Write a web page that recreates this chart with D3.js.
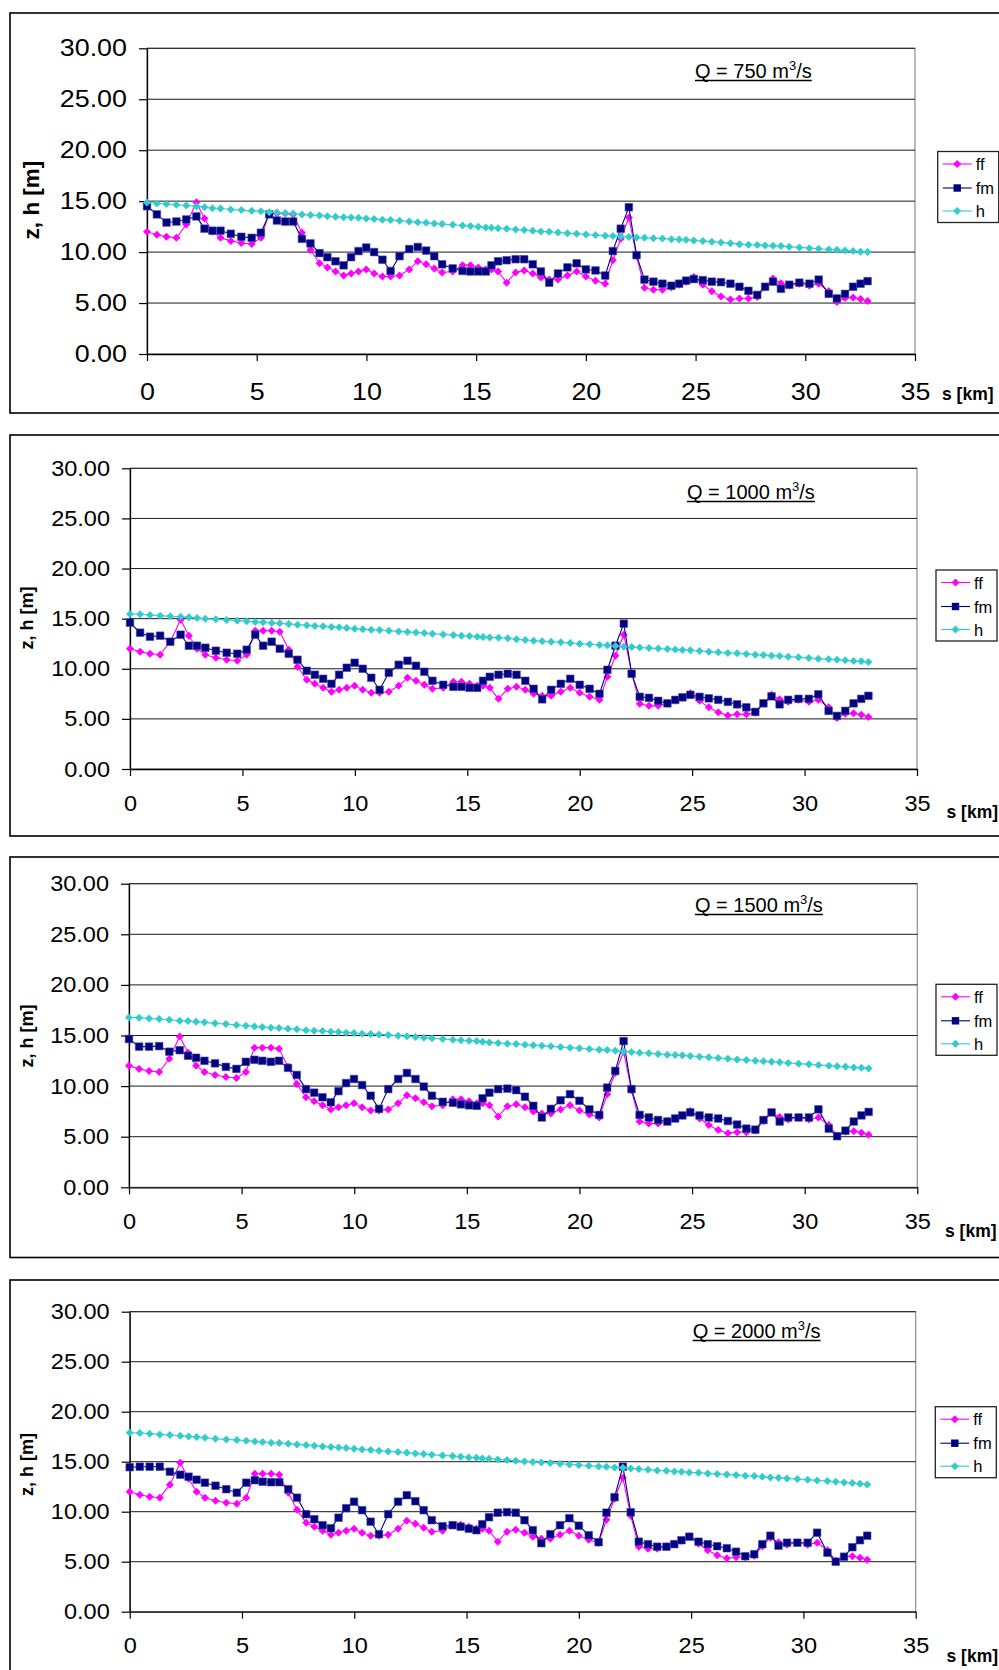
<!DOCTYPE html>
<html>
<head>
<meta charset="utf-8">
<script src="https://cdn.jsdelivr.net/npm/d3@7"></script>
<style>
  body { margin: 0; background: #fff; }
  svg { display: block; }
  text { font-family: "Liberation Sans", Arial, sans-serif; fill: #000; }
</style>
</head>
<body>
<svg id="chart" width="999" height="1670"></svg>
<script>
// River profile: station along the reach [km]
const s_km = [0, 0.45, 0.89, 1.34, 1.79, 2.25, 2.62, 2.98, 3.35, 3.82,
  4.30, 4.77, 5.19, 5.57, 5.92, 6.30, 6.66, 7.06, 7.45, 7.86,
  8.22, 8.59, 8.96, 9.30, 9.64, 9.99, 10.35, 10.73, 11.10, 11.51,
  11.95, 12.34, 12.72, 13.09, 13.45, 13.93, 14.38, 14.74, 15.10, 15.44,
  15.70, 16.00, 16.39, 16.80, 17.19, 17.58, 17.95, 18.33, 18.73, 19.16,
  19.58, 20.00, 20.44, 20.88, 21.23, 21.59, 21.96, 22.31, 22.67, 23.08,
  23.49, 23.90, 24.25, 24.57, 24.92, 25.33, 25.74, 26.16, 26.59, 27.00,
  27.41, 27.81, 28.17, 28.53, 28.89, 29.27, 29.73, 30.19, 30.61, 31.07,
  31.44, 31.81, 32.18, 32.52, 32.84];

// Bed elevation ff [m] (same for all discharges)
const ff = [12.0, 11.7, 11.5, 11.4, 12.7, 14.9, 13.3, 12.0, 11.4, 11.1,
  10.9, 10.8, 11.4, 13.8, 13.8, 13.8, 13.7, 11.9, 10.2, 8.9,
  8.5, 8.1, 7.7, 7.9, 8.1, 8.3, 7.9, 7.6, 7.6, 7.7,
  8.3, 9.1, 8.8, 8.4, 8.0, 8.1, 8.7, 8.7, 8.5, 8.3,
  8.3, 8.1, 7.0, 8.0, 8.2, 7.9, 7.5, 7.3, 7.3, 7.7,
  8.1, 7.6, 7.2, 6.9, 9.2, 11.3, 13.4, 9.6, 6.5, 6.3,
  6.3, 6.55, 6.8, 7.1, 7.55, 6.8, 6.15, 5.65, 5.35, 5.45,
  5.45, 5.6, 6.55, 7.4, 6.95, 6.7, 6.9, 6.7, 6.9, 6.15,
  5.1, 5.5, 5.55, 5.4, 5.2];

// Bed elevation fm [m] per discharge
const fm750 = [14.5, 13.7, 12.9, 13.0, 13.2, 13.5, 12.3, 12.1, 12.1, 11.8,
  11.5, 11.4, 11.9, 13.7, 13.1, 13.0, 13.0, 11.3, 10.85, 9.9,
  9.5, 9.1, 8.7, 9.5, 10.1, 10.45, 10.0, 9.25, 8.15, 9.6,
  10.3, 10.5, 10.15, 9.6, 8.8, 8.4, 8.15, 8.1, 8.1, 8.1,
  8.7, 9.1, 9.2, 9.3, 9.3, 8.8, 8.1, 7.0, 7.9, 8.5,
  8.9, 8.3, 8.2, 7.7, 10.1, 12.3, 14.4, 9.7, 7.3, 7.1,
  6.9, 6.7, 6.9, 7.2, 7.35, 7.25, 7.1, 7.05, 6.9, 6.6,
  6.2, 5.8, 6.6, 7.1, 6.4, 6.8, 7.0, 6.9, 7.3, 5.9,
  5.45, 5.9, 6.6, 6.9, 7.15];
const fm1000 = [14.6, 13.6, 13.2, 13.3, 12.7, 13.4, 12.3, 12.3, 12.1, 11.8,
  11.6, 11.5, 11.9, 13.4, 12.3, 12.7, 12.0, 11.5, 10.9, 9.8,
  9.4, 9.0, 8.5, 9.4, 10.1, 10.6, 10.0, 9.1, 7.9, 9.6,
  10.4, 10.8, 10.3, 9.7, 8.8, 8.4, 8.2, 8.2, 8.1, 8.1,
  8.8, 9.2, 9.4, 9.5, 9.4, 8.8, 8.0, 6.95, 7.9, 8.5,
  9.0, 8.4, 8.0, 7.5, 9.9, 12.3, 14.5, 9.5, 7.2, 7.1,
  6.8, 6.55, 6.9, 7.15, 7.4, 7.2, 7.05, 6.9, 6.7, 6.45,
  6.15, 5.7, 6.55, 7.25, 6.45, 6.9, 7.0, 7.0, 7.45, 5.8,
  5.3, 5.8, 6.55, 7.0, 7.3];
const fm1500 = [14.65, 13.9, 13.9, 13.95, 13.4, 13.55, 13.0, 12.8, 12.5, 12.25,
  11.9, 11.7, 12.4, 12.6, 12.5, 12.4, 12.5, 11.8, 11.1, 9.7,
  9.35, 8.9, 8.4, 9.5, 10.3, 10.7, 10.1, 9.05, 7.75, 9.7,
  10.7, 11.3, 10.7, 9.95, 9.05, 8.45, 8.35, 8.2, 8.1, 8.05,
  8.8, 9.35, 9.7, 9.75, 9.6, 8.95, 8.05, 6.9, 7.75, 8.6,
  9.2, 8.55, 7.7, 7.15, 9.85, 11.5, 14.45, 9.7, 7.15, 6.9,
  6.65, 6.5, 6.8, 7.1, 7.4, 7.1, 6.9, 6.8, 6.55, 6.2,
  5.8, 5.7, 6.65, 7.4, 6.5, 6.9, 6.9, 6.9, 7.7, 5.8,
  5.05, 5.6, 6.5, 7.1, 7.45];
const fm2000 = [14.45, 14.5, 14.5, 14.5, 14.0, 13.7, 13.5, 13.2, 12.9, 12.6,
  12.25, 11.9, 12.9, 13.15, 13.0, 12.95, 12.95, 12.25, 11.4, 9.75,
  9.25, 8.65, 8.35, 9.4, 10.35, 11.0, 10.15, 9.0, 7.75, 9.75,
  11.0, 11.65, 11.05, 10.15, 9.15, 8.55, 8.65, 8.5, 8.3, 8.15,
  8.75, 9.45, 9.9, 9.95, 9.9, 9.15, 8.15, 6.85, 7.75, 8.65,
  9.35, 8.6, 7.65, 6.95, 9.9, 11.45, 14.5, 9.95, 7.0, 6.75,
  6.5, 6.5, 6.75, 7.15, 7.5, 7.0, 6.75, 6.55, 6.35, 6.0,
  5.55, 5.75, 6.75, 7.6, 6.6, 6.9, 6.9, 6.9, 7.9, 5.9,
  5.0, 5.5, 6.45, 7.15, 7.6];

// Water level h [m] per discharge
const h750 = [14.87, 14.77, 14.71, 14.64, 14.58, 14.51, 14.41, 14.31, 14.28, 14.18,
  14.12, 14.05, 14.02, 13.92, 13.89, 13.82, 13.79, 13.69, 13.63, 13.59,
  13.53, 13.46, 13.43, 13.40, 13.37, 13.30, 13.24, 13.17, 13.14, 13.07,
  13.01, 12.94, 12.88, 12.81, 12.75, 12.68, 12.61, 12.55, 12.48, 12.42,
  12.38, 12.35, 12.29, 12.22, 12.16, 12.09, 12.03, 11.99, 11.93, 11.86,
  11.80, 11.73, 11.67, 11.60, 11.57, 11.52, 11.48, 11.44, 11.41, 11.37,
  11.34, 11.27, 11.24, 11.21, 11.14, 11.08, 11.01, 10.95, 10.88, 10.78,
  10.72, 10.69, 10.65, 10.62, 10.59, 10.52, 10.46, 10.39, 10.33, 10.26,
  10.23, 10.16, 10.10, 10.03, 10.00];
const h1000 = [15.46, 15.43, 15.36, 15.30, 15.23, 15.20, 15.13, 15.06, 15.00, 14.93,
  14.87, 14.80, 14.73, 14.67, 14.63, 14.57, 14.53, 14.47, 14.40, 14.33,
  14.27, 14.23, 14.17, 14.13, 14.07, 14.00, 13.93, 13.90, 13.87, 13.80,
  13.73, 13.67, 13.63, 13.57, 13.50, 13.43, 13.37, 13.30, 13.27, 13.20,
  13.17, 13.13, 13.10, 13.04, 12.94, 12.87, 12.80, 12.74, 12.70, 12.64,
  12.57, 12.50, 12.44, 12.37, 12.34, 12.27, 12.20, 12.17, 12.11, 12.07,
  12.01, 11.97, 11.91, 11.87, 11.84, 11.77, 11.71, 11.64, 11.57, 11.54,
  11.47, 11.41, 11.37, 11.31, 11.27, 11.21, 11.14, 11.07, 11.01, 10.94,
  10.91, 10.84, 10.77, 10.74, 10.67];
const h1500 = [16.79, 16.76, 16.69, 16.63, 16.56, 16.46, 16.43, 16.36, 16.30, 16.20,
  16.13, 16.04, 15.97, 15.90, 15.84, 15.77, 15.74, 15.67, 15.61, 15.51,
  15.48, 15.44, 15.38, 15.34, 15.28, 15.25, 15.18, 15.15, 15.11, 15.05,
  14.98, 14.92, 14.85, 14.78, 14.72, 14.65, 14.59, 14.52, 14.49, 14.46,
  14.39, 14.32, 14.26, 14.19, 14.16, 14.09, 14.03, 13.99, 13.93, 13.86,
  13.80, 13.73, 13.66, 13.60, 13.57, 13.50, 13.43, 13.37, 13.30, 13.24,
  13.17, 13.11, 13.07, 13.04, 12.97, 12.91, 12.84, 12.78, 12.71, 12.64,
  12.58, 12.51, 12.45, 12.41, 12.35, 12.28, 12.22, 12.15, 12.08, 12.02,
  11.95, 11.92, 11.85, 11.82, 11.75];
const h2000 = [17.90, 17.87, 17.80, 17.73, 17.67, 17.60, 17.53, 17.47, 17.40, 17.30,
  17.23, 17.17, 17.10, 17.03, 16.97, 16.90, 16.87, 16.80, 16.73, 16.67,
  16.60, 16.53, 16.47, 16.43, 16.37, 16.30, 16.23, 16.17, 16.10, 16.03,
  15.97, 15.90, 15.83, 15.77, 15.70, 15.63, 15.57, 15.50, 15.43, 15.40,
  15.33, 15.30, 15.23, 15.17, 15.10, 15.03, 14.97, 14.93, 14.87, 14.80,
  14.73, 14.67, 14.60, 14.53, 14.50, 14.43, 14.40, 14.33, 14.27, 14.20,
  14.13, 14.10, 14.03, 14.00, 13.93, 13.90, 13.83, 13.77, 13.73, 13.67,
  13.60, 13.57, 13.50, 13.43, 13.40, 13.33, 13.27, 13.20, 13.13, 13.07,
  13.00, 12.93, 12.87, 12.80, 12.73];

const discharges = [750, 1000, 1500, 2000];
const fmSets = [fm750, fm1000, fm1500, fm2000];
const hSets = [h750, h1000, h1500, h2000];

const yTicks = [0, 5, 10, 15, 20, 25, 30];
const xTicks = [0, 5, 10, 15, 20, 25, 30, 35];
const seriesNames = ["ff", "fm", "h"];

// Series styling
const seriesStyle = {
  ff: { color: "#FF00FF", marker: "diamond" },
  fm: { color: "#000080", marker: "square" },
  h:  { color: "#33CCCC", marker: "diamond" }
};

// Page layout of the four stacked charts
const layout = [
  { frame: [10, 13, 1012, 413], plot: { l: 147, r: 915, t: 48.3, b: 354 },
    tickFs: 24, stretch: 1.12, titleFs: 22.5, titleX: 31, titleY: 200, xPad: 22, yPad: 12,
    q: { x: 695, y: 78 }, legend: { x: 937.7, y: 151.5 }, sLab: { x: 942, y: 400 } },
  { frame: [10, 435, 1012, 836], plot: { l: 130, r: 917, t: 468.3, b: 769 },
    tickFs: 22, stretch: 1.07, titleFs: 18, titleX: 27, titleY: 618, xPad: 19, yPad: 12,
    q: { x: 687, y: 499 }, legend: { x: 936, y: 570 }, sLab: { x: 946.5, y: 818 } },
  { frame: [10, 857, 1012, 1257.5], plot: { l: 129, r: 917.3, t: 883.7, b: 1187.3 },
    tickFs: 22, stretch: 1.07, titleFs: 18, titleX: 27, titleY: 1036, xPad: 19, yPad: 12,
    q: { x: 695, y: 912 }, legend: { x: 936, y: 984.3 }, sLab: { x: 945, y: 1237 } },
  { frame: [10, 1280, 1012, 1700], plot: { l: 129.7, r: 915.7, t: 1311.7, b: 1611.7 },
    tickFs: 22, stretch: 1.07, titleFs: 18, titleX: 27, titleY: 1464.5, xPad: 19, yPad: 12,
    q: { x: 692.7, y: 1338 }, legend: { x: 935.3, y: 1406.7 }, sLab: { x: 946.5, y: 1662 } }
];

const svg = d3.select("#chart");

function markerPath(type, r) {
  if (type === "square") return `M${-r},${-r}H${r}V${r}H${-r}Z`;
  return `M0,${-r}L${r},0L0,${r}L${-r},0Z`;
}

// widen tick labels horizontally while keeping their anchor point in place
function stretchTickText(axisG, k) {
  axisG.selectAll(".tick text").each(function () {
    const t = d3.select(this);
    const tx = +t.attr("x") || 0;
    t.attr("x", tx / k).attr("transform", `scale(${k},1)`);
  });
}

function drawPanel(L, idx) {
  const g = svg.append("g");
  const p = L.plot;
  const x = d3.scaleLinear().domain([0, 35]).range([p.l, p.r]);
  const y = d3.scaleLinear().domain([0, 30]).range([p.b, p.t]);

  // chart frame
  g.append("rect")
    .attr("x", L.frame[0]).attr("y", L.frame[1])
    .attr("width", L.frame[2] - L.frame[0]).attr("height", L.frame[3] - L.frame[1])
    .attr("fill", "#fff").attr("stroke", "#000").attr("stroke-width", 1.6);

  // plot area border
  g.append("rect")
    .attr("x", p.l).attr("y", p.t)
    .attr("width", p.r - p.l).attr("height", p.b - p.t)
    .attr("fill", "#fff").attr("stroke", "#8c8c8c").attr("stroke-width", 1.2);

  // horizontal gridlines
  g.append("g").selectAll("line")
    .data(yTicks.filter(v => v > 0))
    .join("line")
    .attr("x1", p.l).attr("x2", p.r)
    .attr("y1", d => y(d)).attr("y2", d => y(d))
    .attr("stroke", "#1a1a1a").attr("stroke-width", 1);

  // y axis
  const yAxis = g.append("g")
    .attr("transform", `translate(${p.l},0)`)
    .call(d3.axisLeft(y).tickValues(yTicks).tickFormat(d3.format(".2f"))
      .tickSizeInner(8).tickSizeOuter(0).tickPadding(L.yPad));
  yAxis.select(".domain").attr("stroke", "#000").attr("stroke-width", 1.3);
  yAxis.selectAll(".tick line").attr("stroke", "#000").attr("stroke-width", 1.2);
  yAxis.selectAll("text").attr("font-size", L.tickFs).attr("font-family", null);
  stretchTickText(yAxis, L.stretch);

  // x axis
  const xAxis = g.append("g")
    .attr("transform", `translate(0,${p.b})`)
    .call(d3.axisBottom(x).tickValues(xTicks).tickFormat(d3.format("d"))
      .tickSizeInner(7).tickSizeOuter(0).tickPadding(L.xPad));
  xAxis.select(".domain").attr("stroke", "#000").attr("stroke-width", 1.3);
  xAxis.selectAll(".tick line").attr("stroke", "#000").attr("stroke-width", 1.2);
  xAxis.selectAll("text").attr("font-size", L.tickFs).attr("font-family", null);
  stretchTickText(xAxis, L.stretch);

  // axis titles
  g.append("text")
    .attr("transform", `translate(${L.titleX},${L.titleY}) rotate(-90)`)
    .attr("text-anchor", "middle").attr("dominant-baseline", "central")
    .attr("font-weight", "bold").attr("font-size", L.titleFs)
    .text("z, h [m]");
  g.append("text")
    .attr("x", L.sLab.x).attr("y", L.sLab.y)
    .attr("font-weight", "bold").attr("font-size", 17.5)
    .text("s [km]");

  // discharge label, underlined with one continuous rule
  const q = g.append("text")
    .attr("x", L.q.x).attr("y", L.q.y)
    .attr("font-size", 20);
  q.append("tspan").text(`Q = ${discharges[idx]} m`);
  q.append("tspan").attr("font-size", 13).attr("dy", -8).text("3");
  q.append("tspan").attr("dy", 8).text("/s");
  const qLen = q.node().getComputedTextLength();
  g.append("line")
    .attr("x1", L.q.x).attr("x2", L.q.x + qLen)
    .attr("y1", L.q.y + 2.5).attr("y2", L.q.y + 2.5)
    .attr("stroke", "#000").attr("stroke-width", 1.4);

  // series
  const rows = {
    ff: s_km.map((s, i) => ({ s, v: ff[i] })),
    fm: s_km.map((s, i) => ({ s, v: fmSets[idx][i] })),
    h:  s_km.map((s, i) => ({ s, v: hSets[idx][i] }))
  };
  const line = d3.line().x(d => x(d.s)).y(d => y(d.v));
  seriesNames.forEach(name => {
    const st = seriesStyle[name];
    const sg = g.append("g");
    sg.append("path").datum(rows[name])
      .attr("d", line).attr("fill", "none")
      .attr("stroke", st.color).attr("stroke-width", 1.1);
    sg.selectAll("path.m").data(rows[name]).join("path")
      .attr("class", "m")
      .attr("transform", d => `translate(${x(d.s)},${y(d.v)})`)
      .attr("d", markerPath(st.marker, st.marker === "square" ? 3.8 : 4))
      .attr("fill", st.color)
      .attr("stroke", st.marker === "square" ? "#4a4aa8" : "none")
      .attr("stroke-width", 0.6);
  });

  // legend
  const lg = g.append("g").attr("transform", `translate(${L.legend.x},${L.legend.y})`);
  lg.append("rect").attr("width", 61).attr("height", 71)
    .attr("fill", "#fff").attr("stroke", "#222").attr("stroke-width", 1.3);
  const rowsY = [12.5, 36.5, 59.5];
  seriesNames.forEach((name, i) => {
    const st = seriesStyle[name];
    const ry = rowsY[i];
    lg.append("line").attr("x1", 5).attr("x2", 34).attr("y1", ry).attr("y2", ry)
      .attr("stroke", st.color).attr("stroke-width", 1.1);
    lg.append("path").attr("transform", `translate(19.5,${ry})`)
      .attr("d", markerPath(st.marker, st.marker === "square" ? 3.7 : 4))
      .attr("fill", st.color);
    lg.append("text").attr("x", 38).attr("y", ry)
      .attr("dominant-baseline", "central").attr("font-size", 16.5)
      .text(name);
  });
}

layout.forEach((L, i) => drawPanel(L, i));
</script>
</body>
</html>
